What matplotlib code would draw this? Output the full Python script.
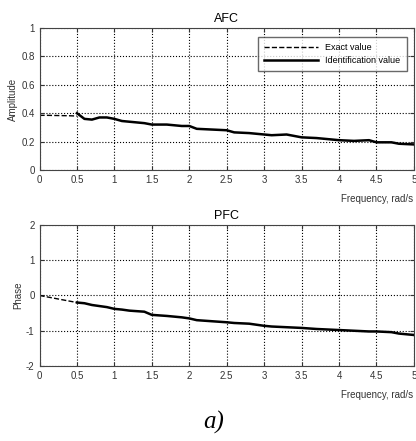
import matplotlib
matplotlib.use("Agg")
import matplotlib.pyplot as plt

plt.rcParams['font.family'] = ['Liberation Sans', 'DejaVu Sans']
plt.rcParams['font.size'] = 7

# exact values (dashed)
freq_exact = [0.0, 0.1, 0.2, 0.3, 0.4, 0.5]
amp_exact = [0.385, 0.385, 0.384, 0.383, 0.382, 0.38]
phase_exact = [0.0, -0.04, -0.08, -0.12, -0.16, -0.2]

# identification values (solid)
freq_id = [0.5, 0.55, 0.6, 0.7, 0.8, 0.9, 1.0, 1.1, 1.2, 1.4, 1.5, 1.7, 1.9, 2.0, 2.1, 2.3,
           2.5, 2.6, 2.8, 3.0, 3.1, 3.3, 3.5, 3.7, 4.0, 4.2, 4.4, 4.5, 4.7, 4.8, 5.0]
amp_id = [0.40, 0.38, 0.36, 0.355, 0.37, 0.37, 0.36, 0.345, 0.34, 0.33, 0.32, 0.32, 0.31, 0.31,
          0.29, 0.285, 0.28, 0.265, 0.26, 0.25, 0.245, 0.25, 0.23, 0.225, 0.21, 0.205, 0.21,
          0.195, 0.195, 0.185, 0.18]
phase_id = [-0.2, -0.21, -0.22, -0.27, -0.3, -0.33, -0.38, -0.4, -0.43, -0.46, -0.55, -0.58,
            -0.62, -0.65, -0.7, -0.73, -0.76, -0.78, -0.8, -0.86, -0.88, -0.9, -0.92, -0.95,
            -0.98, -1.0, -1.02, -1.02, -1.04, -1.08, -1.12]

xticks = [0, 0.5, 1, 1.5, 2, 2.5, 3, 3.5, 4, 4.5, 5]
xticklabels = ['0', '0.5', '1', '1.5', '2', '2.5', '3', '3.5', '4', '4.5', '5']

fig = plt.figure(figsize=(4.16, 4.41), dpi=100)
ax1 = fig.add_axes([0.095, 0.6145, 0.9, 0.322])
ax2 = fig.add_axes([0.095, 0.170, 0.9, 0.320])

tc = '#333333'
for ax in (ax1, ax2):
    ax.grid(True, color='black', linestyle=':', linewidth=0.8)
    ax.set_xlim(0, 5)
    ax.set_xticks(xticks)
    ax.set_xticklabels(xticklabels)
    ax.tick_params(direction='in', length=3, colors=tc, labelcolor=tc,
                   top=True, right=True)
    for s in ax.spines.values():
        s.set_color('#444444')
        s.set_linewidth(0.8)

ax1.plot(freq_exact, amp_exact, 'k--', lw=1.0, label='Exact value')
ax1.plot(freq_id, amp_id, 'k-', lw=1.8, label='Identification value')
ax1.set_ylim(0, 1)
ax1.set_yticks([0, 0.2, 0.4, 0.6, 0.8, 1])
ax1.set_yticklabels(['0', '0.2', '0.4', '0.6', '0.8', '1'])
ax1.set_title('AFC', fontsize=9, pad=4)
ax1.set_ylabel('Amplitude', color=tc, labelpad=2)
ax1.legend(loc='upper right', fontsize=6.5, frameon=True, fancybox=False,
           edgecolor='#444444', handlelength=6.0, borderpad=0.7, labelspacing=0.45,
           bbox_to_anchor=(0.993, 0.97))
ax1.text(0.997, -0.17, 'Frequency, rad/s', transform=ax1.transAxes, ha='right',
         va='top', color=tc)

ax2.plot(freq_exact, phase_exact, 'k--', lw=1.0)
ax2.plot(freq_id, phase_id, 'k-', lw=1.8)
ax2.set_ylim(-2, 2)
ax2.set_yticks([-2, -1, 0, 1, 2])
ax2.set_yticklabels(['-2', '-1', '0', '1', '2'])
ax2.set_title('PFC', fontsize=9, pad=4)
ax2.set_ylabel('Phase', color=tc, labelpad=2)
ax2.text(0.997, -0.17, 'Frequency, rad/s', transform=ax2.transAxes, ha='right',
         va='top', color=tc)

fig.text(0.513, 0.043, 'a)', fontsize=18, family='Liberation Serif', style='italic',
         ha='center', va='center')

fig.savefig('out.png', dpi=100)
